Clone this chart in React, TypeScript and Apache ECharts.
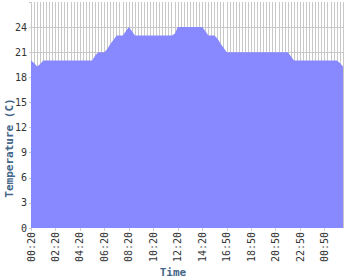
import React, { useEffect, useRef } from "react";
import * as echarts from "echarts";

const times: string[] = [
  "00:20", "00:35", "00:50", "01:05", "01:20", "01:35", "01:50", "02:05",
  "02:20", "02:35", "02:50", "03:05", "03:20", "03:35", "03:50", "04:05",
  "04:20", "04:35", "04:50", "05:05", "05:20", "05:35", "05:50", "06:05",
  "06:20", "06:35", "06:50", "07:05", "07:20", "07:35", "07:50", "08:05",
  "08:20", "08:35", "08:50", "09:05", "09:20", "09:35", "09:50", "10:05",
  "10:20", "10:35", "10:50", "11:05", "11:20", "11:35", "11:50", "12:05",
  "12:20", "12:35", "12:50", "13:05", "13:20", "13:35", "13:50", "14:05",
  "14:20", "14:35", "14:50", "15:05", "15:20", "15:35", "15:50", "16:20",
  "16:50", "17:05", "17:20", "17:35", "17:50", "18:05", "18:20", "18:35",
  "18:50", "19:05", "19:20", "19:35", "19:50", "20:05", "20:20", "20:35",
  "20:50", "21:05", "21:20", "21:35", "21:50", "22:05", "22:20", "22:35",
  "22:50", "23:05", "23:20", "23:35", "23:50", "00:05", "00:20", "00:35",
  "00:50", "01:05", "01:20", "01:35", "01:50", "02:05", "02:20",
];

const temperature: number[] = [
  20, 19.7, 19.3, 19.6, 20, 20, 20, 20, 20, 20,
  20, 20, 20, 20, 20, 20, 20, 20, 20, 20,
  20, 20.6, 21, 21, 21, 21.4, 22, 22.5, 23, 23,
  23, 23.5, 24, 23.5, 23, 23, 23, 23, 23, 23,
  23, 23, 23, 23, 23, 23, 23, 23.2, 24, 24,
  24, 24, 24, 24, 24, 24, 24, 23.5, 23, 23,
  23, 22.6, 22, 21.5, 21, 21, 21, 21, 21, 21,
  21, 21, 21, 21, 21, 21, 21, 21, 21, 21,
  21, 21, 21, 21, 21, 20.5, 20, 20, 20, 20,
  20, 20, 20, 20, 20, 20, 20, 20, 20, 20,
  20, 19.7, 19.3,
];

const yGridValues: number[] = [3, 6, 9, 12, 15, 18, 21, 24];

export default function App() {
  const ref = useRef<HTMLDivElement>(null);
  useEffect(() => {
    if (!ref.current) return;
    const chart = echarts.init(ref.current, undefined, { renderer: "svg" });
    const mono = "DejaVu Sans Mono";
    chart.setOption({
      animation: false,
      backgroundColor: "#ffffff",
      grid: { left: 31, right: 7, top: 2, bottom: 52 },
      xAxis: {
        type: "category",
        data: times,
        boundaryGap: false,
        axisLine: { show: false },
        axisTick: { show: true, interval: 7, length: 3, lineStyle: { color: "#cccccc" } },
        axisLabel: {
          interval: 7,
          rotate: 90,
          margin: 4,
          fontFamily: mono,
          fontSize: 10,
          color: "#333333",
        },
        splitLine: { show: true, interval: 0, lineStyle: { color: "#c8c8c8", width: 1 } },
      },
      yAxis: {
        type: "value",
        min: 0,
        max: 27,
        interval: 3,
        axisLine: { show: false },
        axisTick: { show: true, length: 2, lineStyle: { color: "#cccccc" } },
        axisLabel: {
          margin: 4,
          fontFamily: mono,
          fontSize: 10,
          color: "#333333",
          formatter: (v: number) => (v >= 27 ? "" : String(v)),
        },
        splitLine: { show: false },
      },
      graphic: [
        {
          type: "text",
          x: 9,
          y: 148,
          rotation: Math.PI / 2,
          style: {
            text: "Temperature (C)",
            fontFamily: mono,
            fontSize: 11,
            fontWeight: "bold",
            fill: "#446688",
            align: "center",
            verticalAlign: "middle",
          },
        },
        {
          type: "text",
          x: 173,
          y: 272,
          style: {
            text: "Time",
            fontFamily: mono,
            fontSize: 11,
            fontWeight: "bold",
            fill: "#446688",
            align: "center",
            verticalAlign: "middle",
          },
        },
      ],
      series: [
        {
          type: "line",
          data: [],
          z: 1,
          silent: true,
          markLine: {
            silent: true,
            z: 1,
            symbol: "none",
            label: { show: false },
            lineStyle: { color: "#c8c8c8", width: 1, type: "solid" },
            data: yGridValues.map((v) => ({ yAxis: v })),
          },
        },
        {
          type: "line",
          data: temperature,
          z: 3,
          symbol: "none",
          lineStyle: { width: 0 },
          areaStyle: { color: "#8888ff", opacity: 1 },
          silent: true,
        },
      ],
    });
    return () => chart.dispose();
  }, []);
  return (
    <div
      ref={ref}
      style={{ position: "fixed", left: 0, top: 0, width: 350, height: 280 }}
    />
  );
}
